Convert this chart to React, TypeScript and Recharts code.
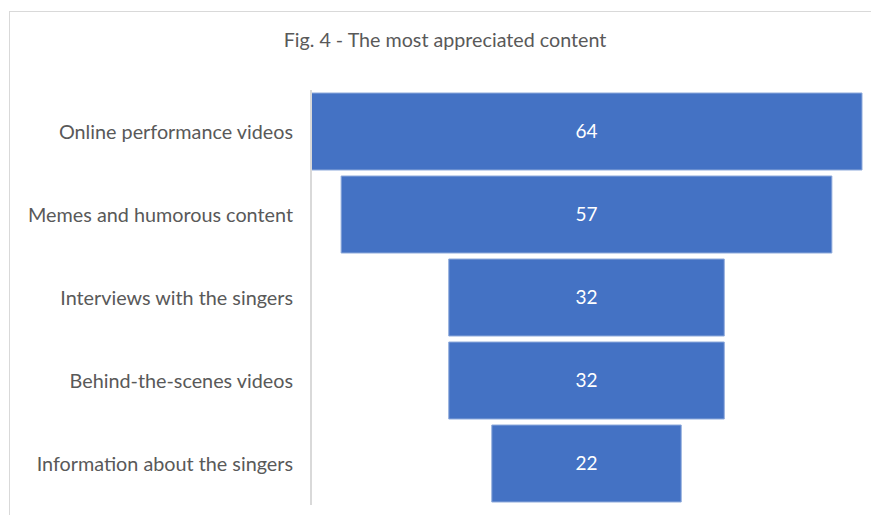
import React from "react";
import { BarChart, Bar, XAxis, YAxis, LabelList } from "recharts";

const categories = [
  "Online performance videos",
  "Memes and humorous content",
  "Interviews with the singers",
  "Behind-the-scenes videos",
  "Information about the singers",
];
const values = [64, 57, 32, 32, 22];

const maxValue = Math.max(...values);

// funnel: transparent spacer + centred value bar
const data = categories.map((name, i) => ({
  name,
  spacer: (maxValue - values[i]) / 2,
  value: values[i],
}));

const FONT = "Lato, 'Open Sans', sans-serif";

export default function App() {
  return (
    <div
      style={{
        position: "absolute",
        left: 0,
        top: 0,
        width: 871,
        height: 515,
        overflow: "hidden",
        background: "#fff",
        fontFamily: FONT,
      }}
    >
      <div
        style={{
          position: "absolute",
          left: 9,
          top: 11,
          width: 900,
          height: 600,
          border: "1px solid #d9d9d9",
        }}
      />
      <div
        style={{
          position: "absolute",
          top: 28,
          left: 0,
          width: 890,
          textAlign: "center",
          fontSize: 19.7,
          color: "#595959",
        }}
      >
        Fig. 4 - The most appreciated content
      </div>
      <BarChart
        width={871}
        height={515}
        data={data}
        layout="vertical"
        margin={{ top: 90, right: 9, bottom: 10, left: 0 }}
        barCategoryGap={3}
        style={{ position: "absolute", left: 0, top: 0 }}
      >
        <XAxis type="number" hide domain={[0, maxValue]} />
        <YAxis
          type="category"
          dataKey="name"
          width={311}
          axisLine={{ stroke: "#d9d9d9", strokeWidth: 2 }}
          tickLine={false}
          tickSize={0}
          tickMargin={18}
          tick={{ fill: "#595959", fontSize: 19.8, fontFamily: FONT }}
        />
        <Bar dataKey="spacer" stackId="f" fill="transparent" isAnimationActive={false} />
        <Bar
          dataKey="value"
          stackId="f"
          fill="#4472c4"
          stroke="#8eaadb"
          strokeWidth={1}
          isAnimationActive={false}
        >
          <LabelList
            dataKey="value"
            position="center"
            fill="#ffffff"
            fontSize={19}
            fontFamily={FONT}
          />
        </Bar>
      </BarChart>
    </div>
  );
}
